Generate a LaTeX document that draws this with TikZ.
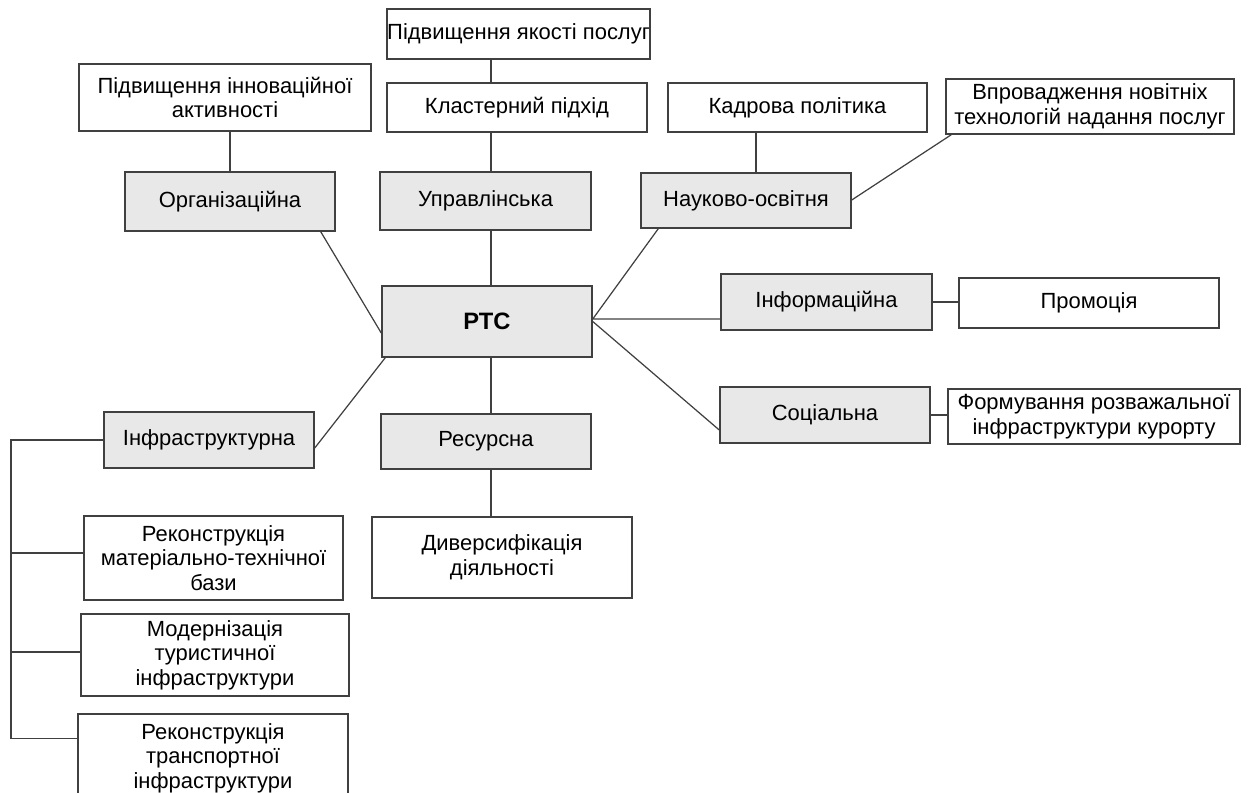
\documentclass[tikz,border=0pt]{standalone}
\usepackage{fontspec}
\setmainfont{Liberation Sans}
\usetikzlibrary{calc}
\definecolor{boxgray}{RGB}{232,232,232}
\definecolor{linegray}{RGB}{64,64,64}
\tikzset{block/.style = {draw=linegray, fill=boxgray, line width=0.85pt, rectangle, inner sep=0pt, align=center, font=\fontsize{12.5}{14}\selectfont},
         wblock/.style= {block, fill=white},
         dims/.style 2 args= {minimum width=#1*0.02cm, minimum height=#2*0.02cm},
         link/.style= {draw=linegray, line width=0.7pt}}

\begin{document}
\begin{tikzpicture}[x=0.02cm,y=-0.02cm]
        \useasboundingbox (0,0) rectangle (1251,793);
        \node[block,dims={210}{71},font=\fontsize{13.5}{15}\selectfont\bfseries](rts)at(487,321.5){РТС};
        \node[block,dims={210}{59}](org)at(230,201.5){Організаційна};
        \node[block,dims={211}{58}](upr)at(485.5,201){Управлінська};
        \node[block,dims={210}{55}](nauk)at(746,200.5){Науково-освітня};
        \node[block,dims={211}{56}](inform)at(826.5,302){Інформаційна};
        \node[block,dims={210}{56}](social)at(825,415){Соціальна};
        \node[block,dims={210}{56}](infra)at(209,440){Інфраструктурна};
        \node[block,dims={210}{55}](resurs)at(486,441.5){Ресурсна};

        \node[wblock,dims={259}{50}](yakist)at(518.5,34){Підвищення якості послуг};
        \node[wblock,dims={292}{67}](innov)at(225,97.5){Підвищення інноваційної\\активності};
        \node[wblock,dims={260}{49}](klaster)at(517,107.5){Кластерний підхід};
        \node[wblock,dims={259}{49}](kadry)at(797.5,107.5){Кадрова політика};
        \node[wblock,dims={288}{55}](vprov)at(1090,106.5){Впровадження новітніх\\технологій надання послуг};
        \node[wblock,dims={260}{50}](promo)at(1089,303){Промоція};
        \node[wblock,dims={292}{55}](format)at(1094,416.5){Формування розважальної\\інфраструктури курорту};
        \node[wblock,dims={260}{81}](dyvers)at(502,557.5){Диверсифікація\\діяльності};
        \node[wblock,dims={259}{84}](rekmat)at(213.5,558){Реконструкція\\матеріально-технічної\\бази};
        \node[wblock,dims={268}{82}](modern)at(215,655){Модернізація\\туристичної\\інфраструктури};
        \node[wblock,dims={270}{88}](rektr)at(213,758){Реконструкція\\транспортної\\інфраструктури};

        % middle column
        \coordinate(axis)at(491,0);
        \draw[link](yakist.south -| axis)--(klaster.north -| axis);
        \draw[link](klaster.south -| axis)--(upr.north -| axis);
        \draw[link](upr.south -| axis)--(rts.north -| axis);
        \draw[link](rts.south -| axis)--(resurs.north -| axis);
        \draw[link](resurs.south -| axis)--(dyvers.north -| axis);

        \draw[link](innov.south -| org)--(org.north);
        \draw[link]($(org.south east)+(-15,0)$)--($(rts.west)+(0,11.5)$);

        \coordinate(kaxis)at(756,0);
        \draw[link](kadry.south -| kaxis)--(nauk.north -| kaxis);
        \draw[link]($(nauk.east)+(0,-0.5)$)--($(vprov.south west)+(6,0)$);
        \draw[link]($(nauk.south west)+(18,0)$)--($(rts.east)+(0,-2.5)$)--($(inform.west)+(0,17)$);
        \draw[link](inform.east)--(inform.east -| promo.west);
        \draw[link](rts.east)--($(social.west)+(0,15)$);
        \draw[link](social.east)--(social.east -| format.west);

        % left bus
        \draw[link]($(rts.south west)+(4,0)$)--($(infra.east)+(0,8)$);
        \coordinate(bus)at(11,0);
        \coordinate(matbr)at($(rekmat.west)+(0,-5)$);
        \coordinate(modbr)at($(modern.west)+(0,-3)$);
        \coordinate(trbr)at($(rektr.north west)+(0,25)$);
        \draw[link](infra.west)-|(trbr -| bus)--(trbr);
        \draw[link](matbr -| bus)--(matbr);
        \draw[link](modbr -| bus)--(modbr);
    \end{tikzpicture}
\end{document}
